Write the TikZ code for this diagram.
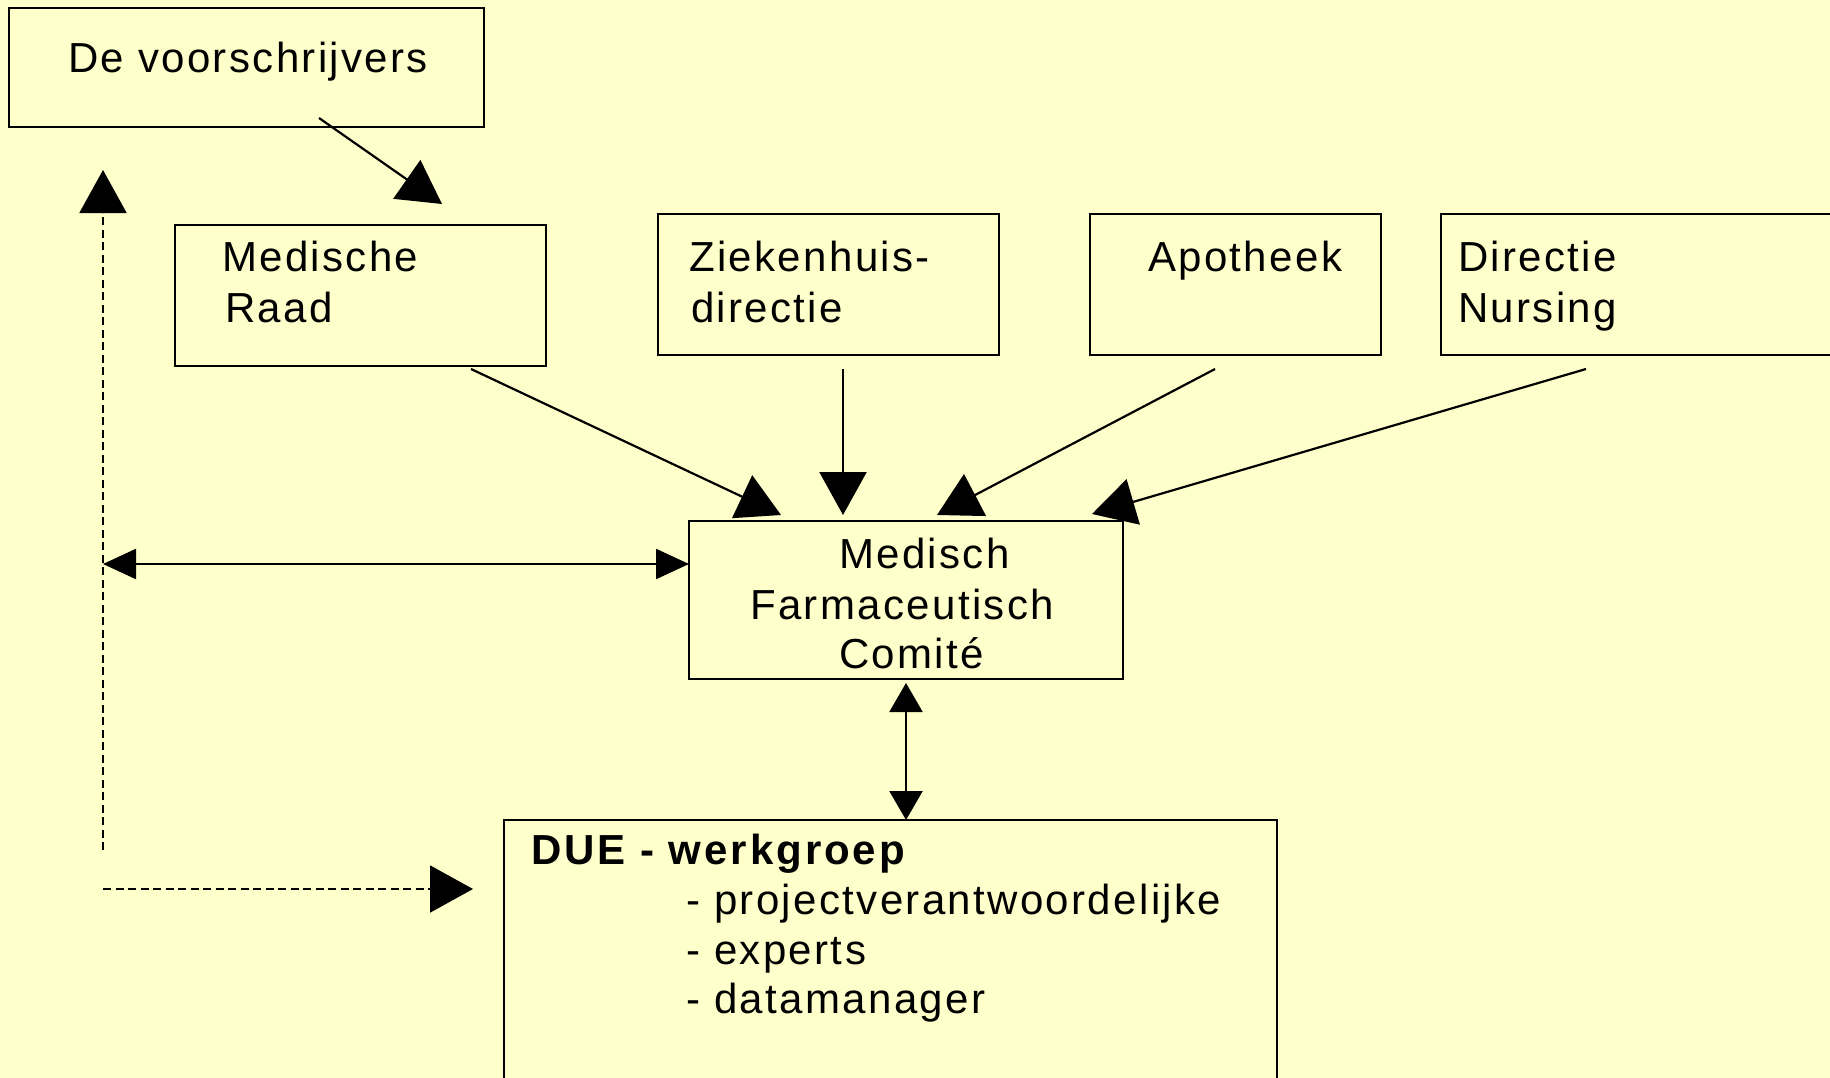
\documentclass[tikz,border=0pt]{standalone}
\usepackage{fontspec}
\setmainfont{Liberation Sans}[LetterSpace=5.6, BoldFeatures={LetterSpace=7.0}]
\usetikzlibrary{arrows.meta}
\definecolor{bg}{HTML}{FFFFCC}
\begin{document}
\begin{tikzpicture}[x=1pt,y=-1pt,
  box/.style={draw, line width=2.6pt, inner sep=0pt, outer sep=0pt, anchor=north west},
  txt/.style={anchor=base west, inner sep=0pt, font=\fontsize{42}{50}\selectfont},
  btxt/.style={txt, font=\fontsize{42}{50}\selectfont\bfseries},
  conn/.style={line width=2.2pt, -{Triangle[length=43pt,width=47pt]}},
  dconn/.style={line width=2pt, dash pattern=on 8pt off 4.5pt, -{Triangle[length=43pt,width=47pt]}},
  harrow/.style={line width=2.2pt, {Triangle[length=33pt,width=30pt]}-{Triangle[length=33pt,width=30pt]}},
  varrow/.style={line width=2.2pt, {Triangle[length=29pt,width=33pt]}-{Triangle[length=29pt,width=33pt]}}
]
\useasboundingbox (0,0) rectangle (1830,1078);
\clip (0,0) rectangle (1830,1078);
\fill[bg] (0,0) rectangle (1830,1078);

% boxes
\node[box, minimum width=475pt, minimum height=119pt] (vs) at (9,8) {};
\node[box, minimum width=371pt, minimum height=141pt] (mr) at (175,225) {};
\node[box, minimum width=341pt, minimum height=141pt] (zd) at (658,214) {};
\node[box, minimum width=291pt, minimum height=141pt] (ap) at (1090,214) {};
\node[box, minimum width=440pt, minimum height=141pt] (dn) at (1441,214) {};
\node[box, minimum width=434pt, minimum height=158pt] (mfc) at (689,521) {};
\node[box, minimum width=773pt, minimum height=320pt] (due) at (504,820) {};

% texts
\node[txt] (t1) at (68,73) {De voorschrijvers};
\node[txt] (t2a) at (222,271) {Medische};
\node[txt] (t2b) at (225,322) {Raad};
\node[txt] (t3a) at (689,271) {Ziekenhuis-};
\node[txt] (t3b) at (691,322) {directie};
\node[txt] (t4) at (1148,271) {Apotheek};
\node[txt] (t5a) at (1458,271) {Directie};
\node[txt] (t5b) at (1458,322) {Nursing};
\node[txt] (t6a) at (839,568) {Medisch};
\node[txt] (t6b) at (750,619) {Farmaceutisch};
\node[txt] (t6c) at (839,668) {Comité};
\node[btxt] (t7a) at (531,864) {DUE - werkgroep};
\node[txt] (t7b) at (686,914) {- projectverantwoordelijke};
\node[txt] (t7c) at (686,964) {- experts};
\node[txt] (t7d) at (686,1013) {- datamanager};

% connector end points
\coordinate (vs-out) at (319,118);
\coordinate (mr-in) at (442,204);
\coordinate (mr-out) at (471,369);
\coordinate (zd-out) at (843,369);
\coordinate (ap-out) at (1215,369);
\coordinate (dn-out) at (1586,369);
\coordinate (mfc-a) at (781,515);
\coordinate (mfc-b) at (843,515);
\coordinate (mfc-c) at (937,515);
\coordinate (mfc-d) at (1092,514);
\coordinate (left-mid) at (103,564);
\coordinate (mfc-l) at (689,564);
\coordinate (dash-bot) at (103,850);
\coordinate (dash-top) at (103,170);
\coordinate (dash-hl) at (103,889);
\coordinate (due-l) at (473,889);
\coordinate (mfc-bot) at (906,683);
\coordinate (due-top) at (906,820);

% connectors
\draw[conn] (vs-out) -- (mr-in);
\draw[conn] (mr-out) -- (mfc-a);
\draw[conn] (zd-out) -- (mfc-b);
\draw[conn] (ap-out) -- (mfc-c);
\draw[conn] (dn-out) -- (mfc-d);
\draw[harrow] (left-mid) -- (mfc-l);
\draw[dconn] (dash-bot) -- (dash-top);
\draw[dconn] (dash-hl) -- (due-l);
\draw[varrow] (mfc-bot) -- (due-top);
\end{tikzpicture}
\end{document}
